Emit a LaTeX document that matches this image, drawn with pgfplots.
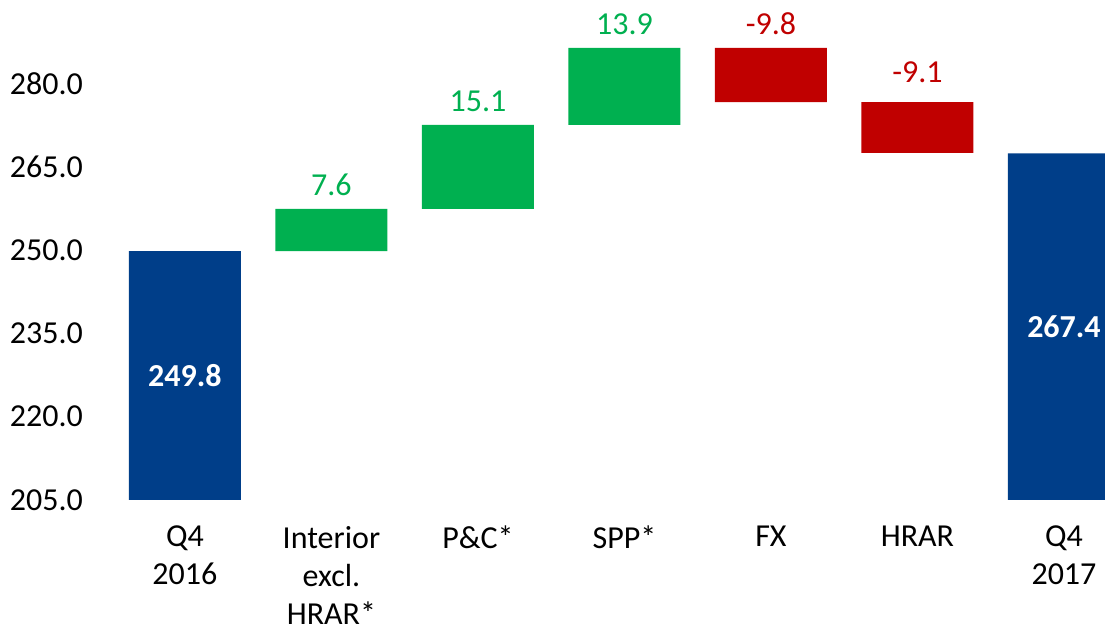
\documentclass[border=0pt]{standalone}
\usepackage{pgfplots}
\pgfplotsset{compat=1.18}
\usepackage{fontspec}
\setmainfont{Carlito}
\definecolor{cblue}{RGB}{0,62,137}
\definecolor{cgreen}{RGB}{0,176,80}
\definecolor{cred}{RGB}{192,0,0}
\begin{document}
\begin{tikzpicture}
\useasboundingbox (-45pt,-65pt) rectangle (507.5pt,250pt);
\pgfplotsset{wf/.style={
  at={(0,0)}, anchor=south west, scale only axis, width=507.5pt, height=250pt,
  xmin=-0.648, xmax=6.28, ymin=205, ymax=295,
  axis line style={draw=none}, tick style={draw=none},
}}
\begin{axis}[wf, ybar stacked, bar width=0.7645,
  xtick={0,...,6},
  xticklabels={{Q4\\2016},{Interior\\excl.\\HRAR*},{P\&C*},{SPP*},{FX},{HRAR},{Q4\\2017}},
  xticklabel style={align=center, font=\fontsize{16}{19}\selectfont, anchor=north, yshift=-9.5pt},
  ytick={205,220,...,280},
  yticklabel style={font=\fontsize{16}{19}\selectfont,
    /pgf/number format/fixed, /pgf/number format/fixed zerofill,
    /pgf/number format/precision=1, /pgf/number format/assume math mode=true},
]
\addplot[draw=none, fill=none] coordinates {(0,0) (1,249.8) (2,257.4) (3,272.5) (4,276.6) (5,267.5) (6,0)};
\addplot[draw=none, fill=cblue] coordinates {(0,249.8) (1,0) (2,0) (3,0) (4,0) (5,0) (6,267.4)};
\addplot[draw=none, fill=cgreen] coordinates {(0,0) (1,7.6) (2,15.1) (3,13.9) (4,0) (5,0) (6,0)};
\addplot[draw=none, fill=cred] coordinates {(0,0) (1,0) (2,0) (3,0) (4,9.8) (5,9.1) (6,0)};
\end{axis}
\begin{axis}[wf, hide axis, nodes near coords, point meta=explicit symbolic]
\addplot[draw=none, mark=none, nodes near coords style={anchor=south, text=cgreen, font=\fontsize{16}{19}\selectfont, yshift=3pt}]
  coordinates {(1,257.4) [7.6] (2,272.5) [15.1] (3,286.4) [13.9]};
\addplot[draw=none, mark=none, nodes near coords style={anchor=south, text=cred, font=\fontsize{16}{19}\selectfont, yshift=3pt}]
  coordinates {(4,286.4) [-9.8] (5,277.7) [-9.1]};
\addplot[draw=none, mark=none, nodes near coords style={anchor=center, text=white, font=\fontsize{16}{19}\selectfont\bfseries}]
  coordinates {(0,227.4) [249.8] (6,236.2) [267.4]};
\end{axis}
\end{tikzpicture}
\end{document}
